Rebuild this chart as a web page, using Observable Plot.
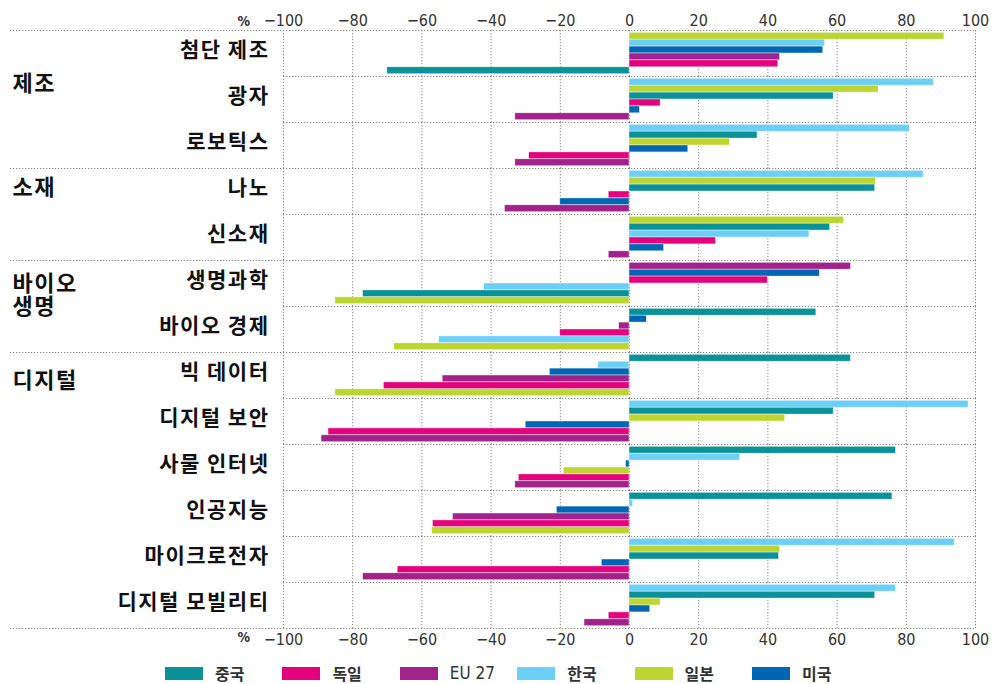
<!DOCTYPE html>
<html>
<head>
<meta charset="utf-8">
<script src="https://cdn.jsdelivr.net/npm/d3@7"></script>
<script src="https://cdn.jsdelivr.net/npm/@observablehq/plot@0.6"></script>
<style>
  html, body { margin: 0; padding: 0; background: #fff; }
  #chart { width: 993px; }
  #chart svg { display: block; }
  .legend { display: flex; padding-left: 165px; margin-top: 9px; height: 18px; align-items: center; }
  .legend .item { display: flex; align-items: center; width: 117.4px; }
  .legend .sw { width: 38px; height: 13px; margin-right: 12px; }
  .legend .lb { font-family: "Noto Sans CJK KR", sans-serif; font-size: 16px; font-weight: 700; color: #333; line-height: 18px; }
  .legend .lb.latin { font-family: "Liberation Sans Narrow", "DejaVu Sans Condensed", sans-serif; font-size: 17px; font-weight: 400; }
</style>
</head>
<body>
<div id="chart"></div>
<script>
// ---- data ----
const subcats = ["첨단 제조", "광자", "로보틱스", "나노", "신소재", "생명과학", "바이오 경제",
  "빅 데이터", "디지털 보안", "사물 인터넷", "인공지능", "마이크로전자", "디지털 모빌리티"];
const countries = ["중국", "독일", "EU 27", "한국", "일본", "미국"];
const countryColors = ["#0a9298", "#e6007e", "#a2228c", "#6ccff6", "#bdd530", "#0066b3"];

const vChina   = [-70, 59, 37, 71, 58, -77, 54, 64, 59, 77, 76, 43.2, 71];
const vGermany = [43, 9, -29, -6, 25, 40, -20, -71, -87, -32, -56.8, -67, -6];
const vEU27    = [43.5, -33, -33, -36, -6, 64, -3, -54, -89, -33, -51, -77, -13];
const vKorea   = [56.5, 88, 81, 85, 52, -42, -55, -9, 98, 32, 1, 94, 77];
const vJapan   = [91, 72, 29, 71.2, 62, -85, -68, -85, 45, -19, -57, 43.5, 9];
const vUSA     = [56, 3, 17, -20, 10, 55, 5, -23, -30, -1, -21, -8, 6];

const mainCats = ["제조", "소재", "바이오\n생명", "디지털"];
const mainFirstSub = ["첨단 제조", "나노", "생명과학", "빅 데이터"];
const xTicks = [-100, -80, -60, -40, -20, 0, 20, 40, 60, 80, 100];

// ---- build table ----
const series = [vChina, vGermany, vEU27, vKorea, vJapan, vUSA];
const rows = [];
subcats.forEach((sub, i) => {
  const items = countries.map((c, k) => ({sub, country: c, value: series[k][i]}));
  const sorted = items.slice().sort((a, b) => b.value - a.value);
  sorted.forEach((d, r) => rows.push({...d, rank: r}));
});

const yPad = 0.33;
const Y0 = -yPad, Y1 = countries.length + yPad;
const korFont = "'Noto Sans CJK KR', sans-serif";
const gridStyle = {stroke: "#8a8a8a", strokeDasharray: "1.3,1.7", strokeWidth: 1};
const labelExtend = -273;
const mainDy = {"제조": 21, "소재": -13, "바이오\n생명": -9, "디지털": -4};

const plot = Plot.plot({
  width: 993,
  height: 655,
  marginLeft: 283,
  marginRight: 18,
  marginTop: 24,
  marginBottom: 22,
  style: {fontFamily: "'Liberation Sans Narrow', 'DejaVu Sans Condensed', sans-serif", fontSize: "16px", color: "#333", background: "#fff"},
  x: {domain: [-100, 100], ticks: xTicks, axis: "both", tickSize: 0, tickPadding: 5, label: null},
  y: {domain: [Y0, Y1], reverse: true, axis: null},
  fy: {domain: subcats, padding: 0, axis: null},
  color: {domain: countries, range: countryColors},
  marks: [
    Plot.ruleX(xTicks, gridStyle),
    Plot.rect(rows, {x1: () => 0, x2: "value", y1: "rank", y2: d => d.rank + 1, fy: "sub", fill: "country",
      stroke: "white", strokeWidth: 0.6, strokeOpacity: 0.7}),
    Plot.ruleY(subcats.filter(s => !mainFirstSub.includes(s)), {fy: d => d, y: () => Y0, ...gridStyle}),
    Plot.ruleY(mainFirstSub, {fy: d => d, y: () => Y0, insetLeft: labelExtend, ...gridStyle}),
    Plot.ruleY([subcats[subcats.length - 1]], {fy: d => d, y: () => Y1, insetLeft: labelExtend, ...gridStyle}),
    Plot.text(subcats, {fy: d => d, text: d => d, frameAnchor: "left", textAnchor: "end", dx: -14, dy: -3,
      fontFamily: korFont, fontSize: 21, fontWeight: "bold", fill: "#111"}),
    ...mainCats.map((c, i) => Plot.text([c], {fy: () => mainFirstSub[i], text: d => d, frameAnchor: "left",
      textAnchor: "start", lineAnchor: "top", dx: labelExtend + 2, dy: mainDy[c], lineHeight: 1.06,
      fontFamily: korFont, fontSize: 22, fontWeight: "bold", fill: "#111"})),
    Plot.text(["%"], {fy: () => subcats[0], text: d => d, frameAnchor: "top-left", dx: -46, dy: -14,
      fontWeight: "bold", fontSize: 14, fill: "#333"}),
    Plot.text(["%"], {fy: () => subcats[subcats.length - 1], text: d => d, frameAnchor: "bottom-left", dx: -46, dy: 13,
      fontWeight: "bold", fontSize: 14, fill: "#333"})
  ]
});
document.getElementById("chart").appendChild(plot);
// slight letter spacing, like the reference lettering
plot.querySelectorAll("g").forEach(g => {
  if (g.getAttribute("font-family") === korFont) g.style.letterSpacing = "1.5px";
});

// legend
const legend = document.createElement("div");
legend.className = "legend";
countries.forEach((c, i) => {
  const item = document.createElement("div");
  item.className = "item";
  const sw = document.createElement("div");
  sw.className = "sw";
  sw.style.background = countryColors[i];
  const lb = document.createElement("span");
  lb.className = "lb" + (/^[A-Z]/.test(c) ? " latin" : "");
  lb.textContent = c;
  item.appendChild(sw);
  item.appendChild(lb);
  legend.appendChild(item);
});
document.getElementById("chart").appendChild(legend);
</script>
</body>
</html>
